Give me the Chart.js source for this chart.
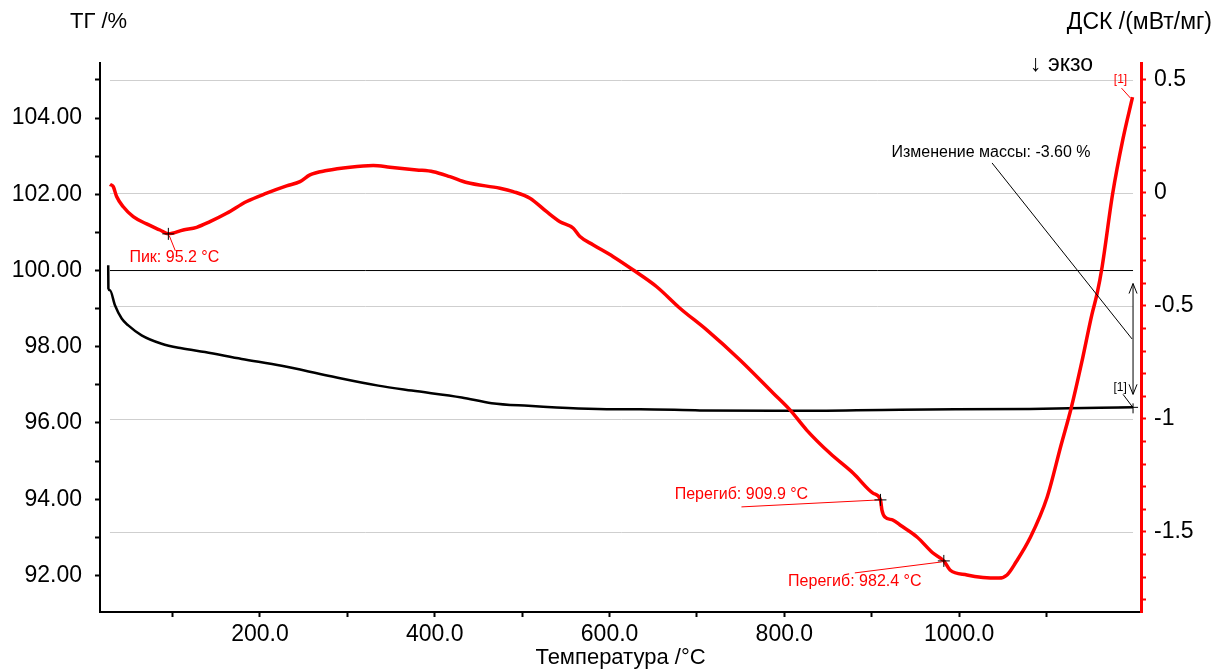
<!DOCTYPE html>
<html>
<head>
<meta charset="utf-8">
<script src="https://cdn.jsdelivr.net/npm/chart.js@4.4.0/dist/chart.umd.min.js"></script>
<style>
    html, body { margin: 0; padding: 0; background: #fff; }
</style>
</head>
<body>
<canvas id="chart" width="1216" height="670"></canvas>
<script>
// TG curve (left axis, %)
const tgTemp = [26.4, 26.6, 28.4, 34.1, 41.8, 49.3, 64.6, 87.5, 110.4, 137.1, 179.1, 224.8, 278.1, 335.4,
    373.6, 430.8, 465.1, 507.0, 564.2, 606.2, 634.8, 703.4, 806.4, 932.3, 1081.0, 1161.1, 1198.9];
const tgMass = [100.14, 99.53, 99.48, 99.09, 98.74, 98.56, 98.30, 98.08, 97.96, 97.86, 97.68, 97.50, 97.24, 96.98,
    96.85, 96.67, 96.52, 96.45, 96.38, 96.36, 96.36, 96.33, 96.32, 96.35, 96.37, 96.40, 96.41];

// DSC curve (right axis, mW/mg)
const dscTemp = [28.4, 32.2, 36.0, 43.6, 55.0, 70.4, 85.6, 95.2, 112.2, 127.6, 142.8, 161.9, 184.8, 207.7,
    230.5, 245.8, 257.2, 276.3, 303.0, 329.6, 348.7, 379.3, 398.3, 417.4, 436.5, 474.6, 489.8, 508.9,
    528.0, 543.2, 558.5, 566.1, 581.4, 604.2, 627.1, 653.9, 680.5, 711.1, 749.2, 787.3, 806.4, 825.5,
    852.2, 878.8, 901.7, 909.9, 911.6, 915.0, 924.2, 932.3, 951.7, 970.0, 982.4, 989.5, 1008.9, 1027.2,
    1045.5, 1054.7, 1065.0, 1081.0, 1100.7, 1116.5, 1128.3, 1140.1, 1151.8, 1157.7, 1163.6, 1175.5,
    1187.3, 1198.3];
const dscValue = [0.038, 0.028, -0.016, -0.061, -0.105, -0.137, -0.164, -0.181, -0.164, -0.152, -0.127, -0.090,
    -0.038, -0.001, 0.031, 0.050, 0.080, 0.099, 0.114, 0.121, 0.114, 0.102, 0.094, 0.072, 0.046, 0.021,
    0.006, -0.023, -0.083, -0.127, -0.156, -0.193, -0.230, -0.282, -0.341, -0.415, -0.510, -0.606, -0.739,
    -0.886, -0.960, -1.049, -1.152, -1.240, -1.329, -1.358, -1.403, -1.434, -1.447, -1.469, -1.522, -1.593,
    -1.628, -1.668, -1.690, -1.701, -1.704, -1.690, -1.633, -1.527, -1.345, -1.116, -0.949, -0.751, -0.538,
    -0.447, -0.325, -0.005, 0.238, 0.424];

// 100 % reference line
const refTemp = [28.4, 1198.9];
const refMass = [100, 100];

// ticks
const xTickValues = [100, 200, 300, 400, 500, 600, 700, 800, 900, 1000, 1100];
const xLabelValues = [200, 400, 600, 800, 1000];
const tgTickValues = [92, 93, 94, 95, 96, 97, 98, 99, 100, 101, 102, 103, 104, 105];
const dscTickValues = [-1.8, -1.7, -1.6, -1.5, -1.4, -1.3, -1.2, -1.1, -1.0, -0.9, -0.8, -0.7, -0.6, -0.5,
    -0.4, -0.3, -0.2, -0.1, 0, 0.1, 0.2, 0.3, 0.4, 0.5];
const dscGridValues = [0.5, 0, -0.5, -1, -1.5];

// marked points
const peakTemp = 95.2;
const inflTemps = [909.9, 982.4];

const toPoints = (xs, ys) => xs.map((x, i) => ({ x: x, y: ys[i] }));
const dscAt = t => dscValue[dscTemp.indexOf(t)];

const RED = '#ff0000';
const FONT = "'Liberation Sans', Arial, sans-serif";

function line(ctx, x1, y1, x2, y2) {
    ctx.beginPath();
    ctx.moveTo(x1, y1);
    ctx.lineTo(x2, y2);
    ctx.stroke();
}

function cross(ctx, px, py, s) {
    ctx.strokeStyle = '#000';
    ctx.lineWidth = 1;
    line(ctx, px - s, py, px + s, py);
    line(ctx, px, py - s, px, py + s);
}

const overlay = {
    id: 'overlay',
    beforeDatasetsDraw(chart) {
        const { ctx, scales } = chart;
        const x = scales.x, y1 = scales.y1;
        const x0 = x.getPixelForValue(tgTemp[0] + 2);
        const x1 = x.getPixelForValue(tgTemp[tgTemp.length - 1]);
        ctx.save();
        ctx.strokeStyle = '#cfcfcf';
        ctx.lineWidth = 1;
        dscGridValues.forEach(v => {
            const py = Math.round(y1.getPixelForValue(v)) + 0.5;
            line(ctx, x0, py, x1, py);
        });
        ctx.restore();
    },
    afterDatasetsDraw(chart) {
        const { ctx, scales } = chart;
        const x = scales.x, y = scales.y, y1 = scales.y1;
        ctx.save();
        ctx.font = '16px ' + FONT;
        ctx.textBaseline = 'middle';
        ctx.textAlign = 'center';

        // peak
        let ax = x.getPixelForValue(peakTemp), ay = y1.getPixelForValue(dscAt(peakTemp));
        ctx.strokeStyle = RED; ctx.lineWidth = 1;
        line(ctx, ax + 1, ay + 2, ax + 7, ay + 17);
        cross(ctx, ax, ay, 6);
        ctx.fillStyle = RED;
        ctx.fillText('Пик: 95.2 °C', ax + 6, ay + 24);

        // inflection 1
        ax = x.getPixelForValue(inflTemps[0]); ay = y1.getPixelForValue(dscAt(inflTemps[0]));
        ctx.strokeStyle = RED;
        line(ctx, ax - 139, ay + 7, ax - 1, ay);
        cross(ctx, ax, ay, 6);
        ctx.fillStyle = RED;
        ctx.fillText('Перегиб: 909.9 °C', ax - 139, ay - 5);

        // inflection 2
        ax = x.getPixelForValue(inflTemps[1]); ay = y1.getPixelForValue(dscAt(inflTemps[1]));
        ctx.strokeStyle = RED;
        line(ctx, ax - 89, ay + 12, ax - 2, ay + 1);
        cross(ctx, ax, ay, 6);
        ctx.fillStyle = RED;
        ctx.fillText('Перегиб: 982.4 °C', ax - 89, ay + 21);

        // DSC end marker
        ax = x.getPixelForValue(dscTemp[dscTemp.length - 1]);
        ay = y1.getPixelForValue(dscValue[dscValue.length - 1]);
        ctx.font = '12px ' + FONT;
        ctx.strokeStyle = RED;
        line(ctx, ax - 11, ay - 9, ax - 2, ay + 1);
        ctx.fillStyle = RED;
        ctx.fillText('[1]', ax - 12, ay - 17);

        // TG end marker
        ax = x.getPixelForValue(tgTemp[tgTemp.length - 1]);
        ay = y.getPixelForValue(tgMass[tgMass.length - 1]);
        ctx.strokeStyle = '#000';
        ctx.lineWidth = 1;
        line(ctx, ax - 14, ay, ax + 5, ay);
        line(ctx, ax, ay - 4, ax, ay + 6);
        line(ctx, ax - 10, ay - 13, ax - 1, ay - 1);
        ctx.fillStyle = '#000';
        ctx.fillText('[1]', ax - 13, ay - 20);

        // mass change arrow
        const yTop = y.getPixelForValue(refMass[0]) + 13;
        const yBot = ay - 13;
        const mid = (yTop + yBot) / 2;
        line(ctx, ax, yTop, ax, yBot);
        line(ctx, ax - 4, yTop + 10, ax, yTop);
        line(ctx, ax + 4, yTop + 10, ax, yTop);
        line(ctx, ax - 4, yBot - 10, ax, yBot);
        line(ctx, ax + 4, yBot - 10, ax, yBot);
        line(ctx, ax - 1, mid, ax - 141, mid - 176);
        ctx.font = '16px ' + FONT;
        ctx.fillText('Изменение массы: -3.60 %', ax - 142, mid - 186);
        ctx.restore();
    },
    afterDraw(chart) {
        const { ctx } = chart;
        ctx.save();
        ctx.fillStyle = '#000';
        ctx.textBaseline = 'middle';
        ctx.font = '22px ' + FONT;
        ctx.textAlign = 'left';
        ctx.fillText('ТГ /%', 70, 22);
        ctx.font = '23px ' + FONT;
        ctx.fillText('↓ экзо', 1030, 65);
        ctx.textAlign = 'right';
        ctx.fillText('ДСК /(мВт/мг)', 1212, 23);
        ctx.restore();
    }
};

Chart.defaults.font.family = FONT;
Chart.defaults.color = '#000';

const ctx = document.getElementById('chart').getContext('2d');
const chart = new Chart(ctx, {
    type: 'line',
    data: {
        datasets: [{
                label: 'ДСК',
                data: toPoints(dscTemp, dscValue),
                yAxisID: 'y1',
                borderColor: RED,
                borderWidth: 3.5,
                pointRadius: 0,
                cubicInterpolationMode: 'monotone'
            },
            {
                label: 'ТГ',
                data: toPoints(tgTemp, tgMass),
                yAxisID: 'y',
                borderColor: '#000',
                borderWidth: 2.5,
                pointRadius: 0,
                cubicInterpolationMode: 'monotone'
            },
            {
                label: '100 %',
                data: toPoints(refTemp, refMass),
                yAxisID: 'y',
                borderColor: '#000',
                borderWidth: 1,
                pointRadius: 0
            }
        ]
    },
    options: {
        responsive: false,
        animation: false,
        layout: { padding: { top: 63, left: 0, right: 0, bottom: 0 } },
        plugins: {
            legend: { display: false },
            tooltip: { enabled: false }
        },
        scales: {
            x: {
                type: 'linear',
                min: 17,
                max: 1208,
                afterBuildTicks: s => { s.ticks = xTickValues.map(v => ({ value: v })); },
                afterFit: s => { s.height = 58; },
                grid: { drawOnChartArea: false, tickLength: 5, tickColor: '#000', tickWidth: 2 },
                border: { color: '#000', width: 2 },
                ticks: {
                    font: { size: 23 },
                    padding: 4,
                    maxRotation: 0,
                    autoSkip: false,
                    callback: v => xLabelValues.includes(v) ? v.toFixed(1) : ''
                },
                title: {
                    display: true,
                    text: 'Температура /°C',
                    font: { size: 22 },
                    padding: { top: 0, bottom: -1 }
                }
            },
            y: {
                position: 'left',
                min: 91.04,
                max: 105.446,
                afterBuildTicks: s => { s.ticks = tgTickValues.map(v => ({ value: v })); },
                afterFit: s => { s.width = 100; },
                grid: { drawOnChartArea: false, tickLength: 5, tickColor: '#000', tickWidth: 2 },
                border: { color: '#000', width: 2 },
                ticks: {
                    font: { size: 23 },
                    padding: 13,
                    autoSkip: false,
                    callback: v => v % 2 === 0 ? v.toFixed(2) : ''
                }
            },
            y1: {
                position: 'right',
                min: -1.854,
                max: 0.575,
                afterBuildTicks: s => { s.ticks = dscTickValues.map(v => ({ value: v })); },
                afterFit: s => { s.width = 75; },
                grid: { drawOnChartArea: false, tickLength: 5, tickColor: RED, tickWidth: 2 },
                border: { color: RED, width: 3 },
                ticks: {
                    font: { size: 23 },
                    padding: 8,
                    autoSkip: false,
                    callback: v => Math.abs(v * 2 - Math.round(v * 2)) < 1e-6 ? String(Math.round(v * 2) / 2) : ''
                }
            }
        }
    },
    plugins: [overlay]
});
</script>
</body>
</html>
